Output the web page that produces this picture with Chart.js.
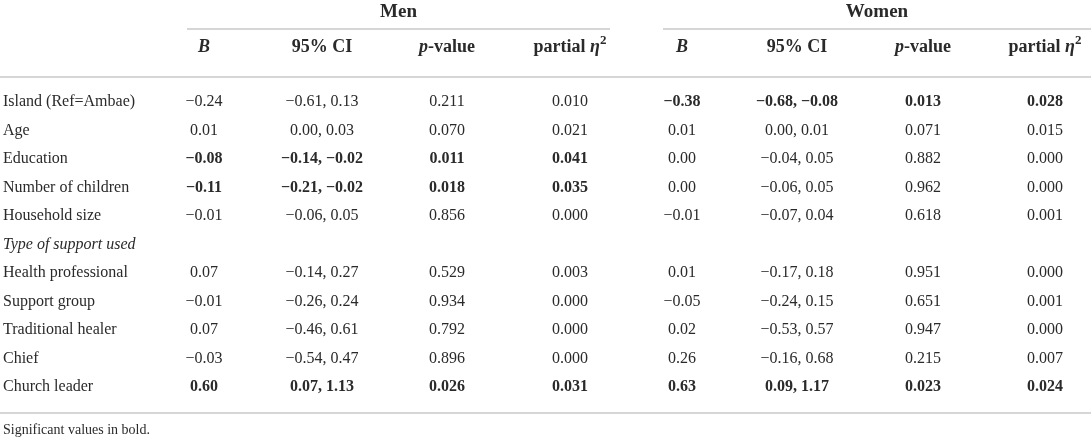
<!DOCTYPE html>
<html>
<head>
<meta charset="utf-8">
<script src="https://cdn.jsdelivr.net/npm/chart.js@4.4.1/dist/chart.umd.min.js"></script>
<style>
  html, body { margin: 0; padding: 0; background: #fff; }
</style>
</head>
<body>
<canvas id="table" width="1091" height="442"></canvas>
<script>
// row labels (null values = section heading row)
const rowLabels = [
  "Island (Ref=Ambae)", "Age", "Education", "Number of children", "Household size",
  "Type of support used",
  "Health professional", "Support group", "Traditional healer", "Chief", "Church leader",
];
const sectionRows = [5];
const groups = ["Men", "Women"];
const statHeaders = ["B", "95% CI", "p-value", "partial eta2"];
const footnote = "Significant values in bold.";

// Men
const menB    = [-0.24, 0.01, -0.08, -0.11, -0.01, null, 0.07, -0.01, 0.07, -0.03, 0.60];
const menLo   = [-0.61, 0.00, -0.14, -0.21, -0.06, null, -0.14, -0.26, -0.46, -0.54, 0.07];
const menHi   = [0.13, 0.03, -0.02, -0.02, 0.05, null, 0.27, 0.24, 0.61, 0.47, 1.13];
const menP    = [0.211, 0.070, 0.011, 0.018, 0.856, null, 0.529, 0.934, 0.792, 0.896, 0.026];
const menEta  = [0.010, 0.021, 0.041, 0.035, 0.000, null, 0.003, 0.000, 0.000, 0.000, 0.031];
// Women
const womenB   = [-0.38, 0.01, 0.00, 0.00, -0.01, null, 0.01, -0.05, 0.02, 0.26, 0.63];
const womenLo  = [-0.68, 0.00, -0.04, -0.06, -0.07, null, -0.17, -0.24, -0.53, -0.16, 0.09];
const womenHi  = [-0.08, 0.01, 0.05, 0.05, 0.04, null, 0.18, 0.15, 0.57, 0.68, 1.17];
const womenP   = [0.013, 0.071, 0.882, 0.962, 0.618, null, 0.951, 0.651, 0.947, 0.215, 0.023];
const womenEta = [0.028, 0.015, 0.000, 0.000, 0.001, null, 0.000, 0.001, 0.000, 0.007, 0.024];

// layout (x in canvas px, y in row units)
const labelX = 3;
const colX = [[204, 322, 447, 570], [682, 797, 923, 1045]];
const groupSpan = [[187, 610], [663, 1091]];
const groupRow = -3.16, ruleTopRow = -2.56, headerRow = -1.93, ruleHeadRow = -0.88;
const ruleBottomRow = 10.91, footRow = 11.51;

const SERIF = '"Liberation Serif", "DejaVu Serif", serif';
const INK = "#2a2a2a";

const fmt = (v, d) => (v < 0 ? "\u2212" : "") + Math.abs(v).toFixed(d);
const sig = (p) => p < 0.05;

function statCells(b, lo, hi, p, eta) {
  return [
    b.map((v, i) => v === null ? null : { text: fmt(v, 2), bold: sig(p[i]) }),
    lo.map((v, i) => v === null ? null : { text: fmt(v, 2) + ", " + fmt(hi[i], 2), bold: sig(p[i]) }),
    p.map((v) => v === null ? null : { text: v.toFixed(3), bold: sig(v) }),
    eta.map((v, i) => v === null ? null : { text: v.toFixed(3), bold: sig(p[i]) }),
  ];
}

const headerSegs = {
  "B": [["B", "italic bold"]],
  "95% CI": [["95% CI", "bold"]],
  "p-value": [["p", "italic bold"], ["-value", "bold"]],
  "partial eta2": [["partial ", "bold"], ["\u03b7", "italic bold"], ["2", "bold", true]],
};

const datasets = [];
// row labels
datasets.push({
  align: "left",
  data: rowLabels.map((_, i) => ({ x: labelX, y: i })),
  cells: rowLabels.map((t, i) => ({ text: t, italic: sectionRows.includes(i) })),
});
const allCells = [
  statCells(menB, menLo, menHi, menP, menEta),
  statCells(womenB, womenLo, womenHi, womenP, womenEta),
];
groups.forEach((g, gi) => {
  // group title
  datasets.push({
    align: "center", size: 19,
    data: [{ x: (groupSpan[gi][0] + groupSpan[gi][1]) / 2, y: groupRow }],
    cells: [{ segs: [[g, "bold"]] }],
  });
  statHeaders.forEach((h, k) => {
    datasets.push({
      align: "center", size: 18,
      data: [{ x: colX[gi][k], y: headerRow }],
      cells: [{ segs: headerSegs[h] }],
    });
    datasets.push({
      align: "center",
      data: rowLabels.map((_, i) => ({ x: colX[gi][k], y: i })),
      cells: allCells[gi][k],
    });
  });
});
datasets.push({
  align: "left", size: 14,
  data: [{ x: labelX, y: footRow }],
  cells: [{ text: footnote }],
});
datasets.forEach((d) => { d.pointRadius = 0; d.showLine = false; });

const rules = [
  { from: groupSpan[0][0], to: groupSpan[0][1], row: ruleTopRow },
  { from: groupSpan[1][0], to: groupSpan[1][1], row: ruleTopRow },
  { from: 0, to: 1091, row: ruleHeadRow },
  { from: 0, to: 1091, row: ruleBottomRow },
];

function drawSegs(ctx, segs, x, y, size, align) {
  const widths = segs.map(([t, st, sup]) => {
    ctx.font = st + " " + (sup ? Math.round(size * 0.7) : size) + "px " + SERIF;
    return ctx.measureText(t).width;
  });
  const total = widths.reduce((a, b) => a + b, 0);
  let cx = align === "center" ? x - total / 2 : x;
  ctx.textAlign = "left";
  segs.forEach(([t, st, sup], i) => {
    ctx.font = st + " " + (sup ? Math.round(size * 0.7) : size) + "px " + SERIF;
    ctx.fillText(t, cx, sup ? y - size * 0.38 : y);
    cx += widths[i];
  });
}

const tableText = {
  id: "tableText",
  afterDatasetsDraw(chart) {
    const { ctx, scales: { x, y } } = chart;
    ctx.save();
    ctx.strokeStyle = "#d6d6d6";
    ctx.lineWidth = 2;
    rules.forEach((r) => {
      const py = Math.round(y.getPixelForValue(r.row));
      ctx.beginPath();
      ctx.moveTo(x.getPixelForValue(r.from), py);
      ctx.lineTo(x.getPixelForValue(r.to), py);
      ctx.stroke();
    });
    ctx.fillStyle = INK;
    ctx.textBaseline = "middle";
    chart.data.datasets.forEach((ds, di) => {
      const meta = chart.getDatasetMeta(di);
      meta.data.forEach((pt, i) => {
        const cell = ds.cells[i];
        if (!cell) return;
        const size = ds.size || 16;
        if (cell.segs) {
          drawSegs(ctx, cell.segs, pt.x, pt.y, size, ds.align);
        } else {
          ctx.font = (cell.italic ? "italic " : "") + (cell.bold ? "bold " : "") + size + "px " + SERIF;
          ctx.textAlign = ds.align;
          ctx.fillText(cell.text, pt.x, pt.y);
        }
      });
    });
    ctx.restore();
  },
};

new Chart(document.getElementById("table"), {
  type: "scatter",
  data: { datasets },
  plugins: [tableText],
  options: {
    responsive: false,
    animation: false,
    events: [],
    layout: { padding: 0 },
    plugins: { legend: { display: false }, tooltip: { enabled: false } },
    scales: {
      x: { type: "linear", display: false, min: 0, max: 1091 },
      y: { type: "linear", display: false, reverse: true, min: -3.58, max: 11.93 },
    },
  },
});
</script>
</body>
</html>
